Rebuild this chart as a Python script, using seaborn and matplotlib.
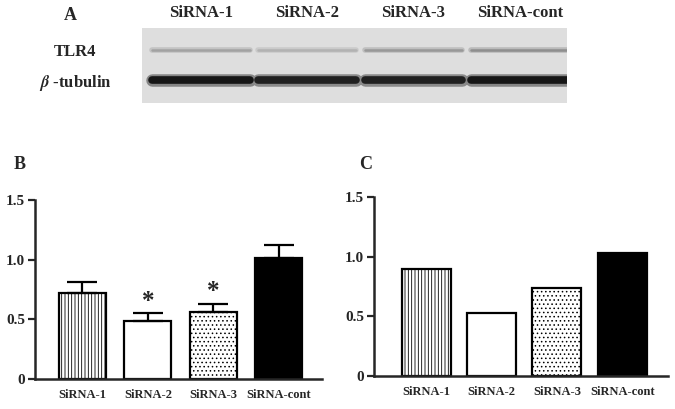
import numpy as np
import matplotlib
matplotlib.use("Agg")
import matplotlib.pyplot as plt
import seaborn as sns

# -----------------------------
# DATA
# -----------------------------
groups = ["SiRNA-1", "SiRNA-2", "SiRNA-3", "SiRNA-cont"]
blot_rows = ["TLR4", r"$\beta$ -tubulin"]
tlr4_band = [0.30, 0.22, 0.35, 0.40]      # band darkness, 0..1
tubulin_band = [1.00, 0.95, 0.95, 1.00]

b_mean = [0.72, 0.49, 0.56, 1.01]
b_err = [0.09, 0.06, 0.07, 0.11]
b_star = ["", "*", "*", ""]

c_values = [0.90, 0.53, 0.74, 1.03]

y_ticks = [0, 0.5, 1.0, 1.5]
y_ticklabels = ["0", "0.5", "1.0", "1.5"]

bar_colors = ["white", "white", "white", "black"]
bar_hatches = ["|||||", "", "....", ""]

# -----------------------------
# STYLE
# -----------------------------
sns.set_style("ticks")
plt.rcParams["font.family"] = ["Liberation Serif", "DejaVu Serif"]
plt.rcParams["font.weight"] = "bold"
plt.rcParams["mathtext.fontset"] = "stix"
plt.rcParams["hatch.linewidth"] = 0.6

fig = plt.figure(figsize=(6.75, 4.09), dpi=100)


def px_axes(left, top, right, bottom):
    W, H = 675, 409
    return fig.add_axes([left / W, 1 - bottom / H, (right - left) / W, (bottom - top) / H])


# -----------------------------
# PANEL A - western blot
# -----------------------------
bg = 0.87
ax_a = px_axes(142, 28, 567, 103)
ax_a.set_facecolor(str(bg))
lanes = np.arange(len(groups))
for row, band, widths in [(0, tlr4_band, (4, 1.8)), (1, tubulin_band, (9, 5.5))]:
    for lw, k in zip(widths, (0.4, 0.9)):
        cols = [str(bg * (1 - k * b)) for b in band]
        ax_a.hlines([row] * len(lanes), lanes - 0.46, lanes + 0.46,
                    colors=cols, linewidth=lw, capstyle="round")
ax_a.set_xlim(-0.555, 3.445)
ax_a.set_ylim(1.775, -0.725)
ax_a.xaxis.tick_top()
ax_a.set_xticks(lanes)
ax_a.set_xticklabels(groups, fontsize=12, fontweight="bold")
ax_a.set_yticks([0, 1])
ax_a.set_yticklabels(blot_rows, fontsize=12, fontweight="bold", ha="center")
ax_a.tick_params(axis="x", length=0, pad=5)
ax_a.tick_params(axis="y", length=0, pad=48)
for s in ax_a.spines.values():
    s.set_visible(False)

fig.text(70 / 675, 1 - 16 / 409, "A", fontsize=13, fontweight="bold", ha="center", va="center")
fig.text(20 / 675, 1 - 164 / 409, "B", fontsize=13, fontweight="bold", ha="center", va="center")
fig.text(366 / 675, 1 - 164 / 409, "C", fontsize=13, fontweight="bold", ha="center", va="center")


def style_bar_axes(ax):
    for patch, fc, h in zip(ax.patches, bar_colors, bar_hatches):
        patch.set_facecolor(fc)
        patch.set_edgecolor("black")
        patch.set_linewidth(1.6)
        patch.set_hatch(h)
    ax.set_ylim(0, 1.5)
    ax.set_yticks(y_ticks)
    ax.set_yticklabels(y_ticklabels, fontsize=11, fontweight="bold")
    ax.set_xticks(range(len(groups)))
    ax.set_xticklabels(groups, fontsize=9, fontweight="bold")
    ax.set_xlabel("")
    ax.set_ylabel("")
    ax.tick_params(axis="x", length=0, pad=7)
    ax.tick_params(axis="y", length=5, width=1.6, pad=2)
    sns.despine(ax=ax)
    ax.spines["left"].set_linewidth(1.8)
    ax.spines["bottom"].set_linewidth(1.8)


# -----------------------------
# PANEL B - mean +/- error
# -----------------------------
ax_b = px_axes(35, 200, 322, 379)
sns.barplot(x=groups, y=b_mean, hue=groups, palette=bar_colors, legend=False,
            errorbar=None, width=0.72, ax=ax_b)
ax_b.errorbar(range(len(groups)), b_mean, yerr=[np.zeros(len(b_err)), b_err],
              fmt="none", ecolor="black", elinewidth=1.6, capsize=11, capthick=1.6,
              zorder=1)
for i, (m, e, s) in enumerate(zip(b_mean, b_err, b_star)):
    if s:
        ax_b.text(i, m + e + 0.1, s, ha="center", va="center", fontsize=18, fontweight="bold")
ax_b.set_xlim(-0.725, 3.66)
style_bar_axes(ax_b)

# -----------------------------
# PANEL C - single values
# -----------------------------
ax_c = px_axes(374, 197, 668, 376)
sns.barplot(x=groups, y=c_values, hue=groups, palette=bar_colors, legend=False,
            errorbar=None, width=0.75, ax=ax_c)
ax_c.set_xlim(-0.8, 3.7)
style_bar_axes(ax_c)

fig.savefig("out.png", dpi=100)
